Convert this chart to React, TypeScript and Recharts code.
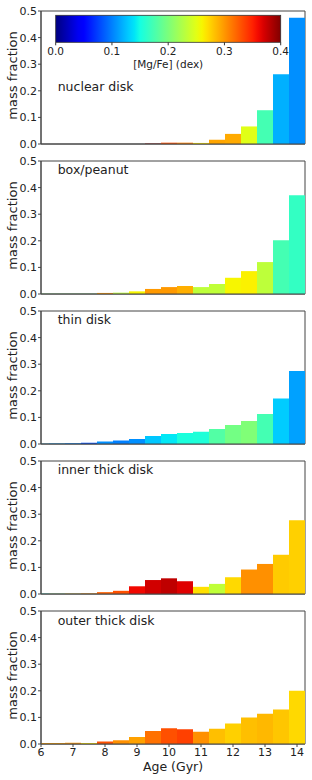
import { BarChart, Bar, XAxis, YAxis, Cell, ReferenceArea } from "recharts";

const ages = [6, 6.5, 7, 7.5, 8, 8.5, 9, 9.5, 10, 10.5, 11, 11.5, 12, 12.5, 13, 13.5, 14];
const xTicks = [6, 7, 8, 9, 10, 11, 12, 13, 14];
const yTicks = [0, 0.1, 0.2, 0.3, 0.4, 0.5];
const cbarTicks = [0, 0.1, 0.2, 0.3, 0.4];

// mass fraction per age bin, and mean [Mg/Fe] of each bin (sets bar colour)
const nuclearMass = [0, 0, 0, 0, 0, 0, 0, 0.0015, 0.005, 0.005, 0.004, 0.016, 0.038, 0.066, 0.127, 0.262, 0.475];
const nuclearMgFe = [0.2, 0.2, 0.2, 0.2, 0.2, 0.2, 0.2, 0.39, 0.33, 0.31, 0.265, 0.294, 0.292, 0.249, 0.173, 0.119, 0.106];

const boxMass = [0.001, 0.001, 0.001, 0.001, 0.004, 0.005, 0.01, 0.019, 0.026, 0.03, 0.026, 0.0375, 0.061, 0.086, 0.12, 0.2025, 0.371];
const boxMgFe = [0.2, 0.2, 0.2, 0.2, 0.299, 0.232, 0.26, 0.299, 0.299, 0.29, 0.232, 0.233, 0.26, 0.262, 0.232, 0.173, 0.165];

const thinMass = [0.001, 0.002, 0.003, 0.005, 0.009, 0.013, 0.019, 0.03, 0.038, 0.041, 0.046, 0.056, 0.071, 0.086, 0.113, 0.171, 0.274];
const thinMgFe = [0.12, 0.11, 0.1, 0.081, 0.106, 0.1, 0.106, 0.128, 0.141, 0.153, 0.155, 0.18, 0.196, 0.202, 0.173, 0.13, 0.113];

const innerMass = [0.001, 0.001, 0.001, 0.002, 0.007, 0.012, 0.029, 0.0525, 0.059, 0.048, 0.027, 0.038, 0.063, 0.092, 0.113, 0.1475, 0.2775];
const innerMgFe = [0.15, 0.2, 0.27, 0.3, 0.323, 0.33, 0.361, 0.372, 0.378, 0.367, 0.269, 0.233, 0.272, 0.303, 0.303, 0.278, 0.276];

const outerMass = [0.004, 0.004, 0.005, 0.004, 0.009, 0.014, 0.026, 0.049, 0.059, 0.055, 0.046, 0.0575, 0.0775, 0.1, 0.114, 0.13, 0.2];
const outerMgFe = [0.296, 0.296, 0.3, 0.265, 0.33, 0.303, 0.296, 0.316, 0.33, 0.337, 0.303, 0.283, 0.276, 0.283, 0.286, 0.28, 0.272];

const panels = [
  { name: "nuclear disk", mass: nuclearMass, mgfe: nuclearMgFe },
  { name: "box/peanut", mass: boxMass, mgfe: boxMgFe },
  { name: "thin disk", mass: thinMass, mgfe: thinMgFe },
  { name: "inner thick disk", mass: innerMass, mgfe: innerMgFe },
  { name: "outer thick disk", mass: outerMass, mgfe: outerMgFe },
];

const FONT = "DejaVu Sans";
const AXIS = "#444";

// matplotlib "jet", value range 0 - 0.4 dex
function interp(t: number, pts: number[][]) {
  for (let i = 1; i < pts.length; i++) {
    if (t <= pts[i][0]) {
      const [x0, y0] = pts[i - 1];
      const [x1, y1] = pts[i];
      return y0 + ((y1 - y0) * (t - x0)) / (x1 - x0);
    }
  }
  return pts[pts.length - 1][1];
}
function jet(v: number) {
  const t = Math.min(1, Math.max(0, v / 0.4));
  const r = interp(t, [[0, 0], [0.35, 0], [0.66, 1], [0.89, 1], [1, 0.5]]);
  const g = interp(t, [[0, 0], [0.125, 0], [0.375, 1], [0.64, 1], [0.91, 0], [1, 0]]);
  const b = interp(t, [[0, 0.5], [0.11, 1], [0.34, 1], [0.65, 0], [1, 0]]);
  const c = (x: number) => Math.round(255 * x);
  return `rgb(${c(r)},${c(g)},${c(b)})`;
}

const yLabel = (props: any) => {
  const vb = props.viewBox || { y: 11, height: 133 };
  const cy = vb.y + vb.height / 2 - 2;
  return (
    <text x={17} y={cy} transform={`rotate(-90, 17, ${cy})`} textAnchor="middle"
      fontSize={13} fontFamily={FONT} fill="#222">
      mass fraction
    </text>
  );
};

function Panel({ mass, mgfe, last }: { mass: number[]; mgfe: number[]; last: boolean }) {
  const data = ages.map((age, i) => ({ age, mass: mass[i], mgfe: mgfe[i] }));
  const tickStyle = { fontSize: 11, fontFamily: FONT, fill: "#222" };
  return (
    <BarChart width={312} height={last ? 180 : 150} data={data} barCategoryGap={0} barGap={0}
      margin={{ top: 11, right: 7, bottom: 0, left: 0 }}>
      <XAxis dataKey="age" type="number" domain={[6, 14.25]} ticks={xTicks} allowDataOverflow
        tick={last ? tickStyle : false} tickSize={3} tickMargin={1} height={last ? 36 : 6}
        stroke={AXIS}
        label={last ? { value: "Age (Gyr)", position: "insideBottom", offset: 9, fontSize: 12.5, fontFamily: FONT, fill: "#222" } : undefined} />
      <YAxis type="number" domain={[0, 0.5]} ticks={yTicks} width={41} tick={tickStyle}
        tickSize={3} tickMargin={1} stroke={AXIS} tickFormatter={(v: number) => v.toFixed(1)}
        label={yLabel} />
      <Bar dataKey="mass" isAnimationActive={false}>
        {data.map((d, i) => (
          <Cell key={i} fill={jet(d.mgfe)} />
        ))}
      </Bar>
      <ReferenceArea x1={6} x2={14.25} y1={0} y2={0.5} fill="none" stroke={AXIS} ifOverflow="visible" />
    </BarChart>
  );
}

const labelBaselines = [90.7, 174, 324, 474, 625];

export default function App() {
  const cbX = 55.7, cbY = 15.3, cbW = 225, cbH = 27;
  const stops = Array.from({ length: 41 }, (_, i) => i / 40);
  return (
    <div style={{ position: "absolute", left: 0, top: 0, width: 312, height: 780, background: "#fff" }}>
      {panels.map((p, i) => (
        <Panel key={p.name} mass={p.mass} mgfe={p.mgfe} last={i === panels.length - 1} />
      ))}
      <svg width={312} height={780} style={{ position: "absolute", left: 0, top: 0, pointerEvents: "none" }}>
        <defs>
          <linearGradient id="jetbar" x1="0" x2="1" y1="0" y2="0">
            {stops.map((s) => (
              <stop key={s} offset={s} stopColor={jet(s * 0.4)} />
            ))}
          </linearGradient>
        </defs>
        <rect x={cbX} y={cbY} width={cbW} height={cbH} fill="url(#jetbar)" stroke="#333" strokeWidth={0.8} />
        {cbarTicks.map((t) => {
          const x = cbX + (t / 0.4) * cbW;
          return (
            <g key={t}>
              <line x1={x} x2={x} y1={cbY + cbH} y2={cbY + cbH + 3} stroke="#333" />
              <text x={x} y={55.3} textAnchor="middle" fontSize={10.5} fontFamily={FONT} fill="#222">
                {t.toFixed(1)}
              </text>
            </g>
          );
        })}
        <text x={cbX + cbW / 2} y={67.5} textAnchor="middle" fontSize={10.5} fontFamily={FONT} fill="#222">
          [Mg/Fe] (dex)
        </text>
        {panels.map((p, i) => (
          <text key={p.name} x={57.7} y={labelBaselines[i]} fontSize={12.5} fontFamily={FONT} fill="#222">
            {p.name}
          </text>
        ))}
      </svg>
    </div>
  );
}
